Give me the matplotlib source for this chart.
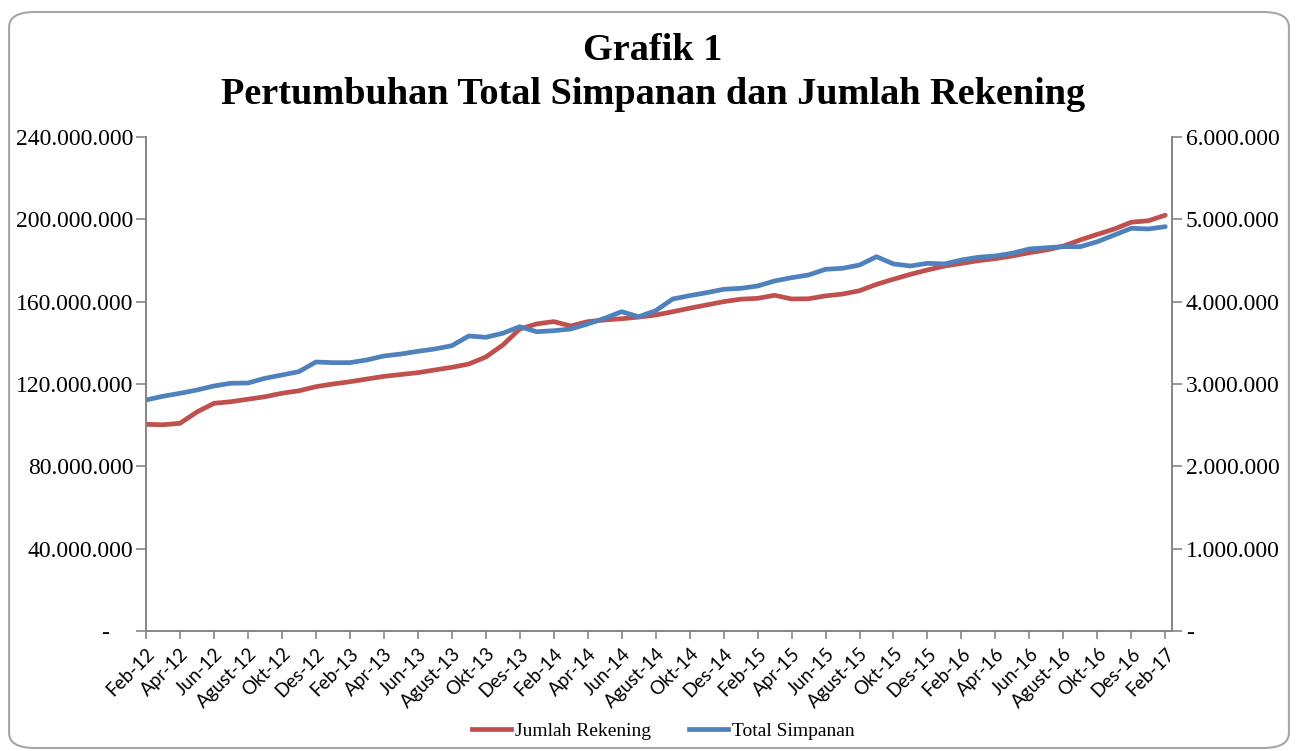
import numpy as np
import matplotlib
matplotlib.use('Agg')
import matplotlib.pyplot as plt
from matplotlib.patches import FancyBboxPatch
from matplotlib.ticker import FuncFormatter

# monthly data Feb-12 .. Feb-17
bulan = ['Jan', 'Feb', 'Mar', 'Apr', 'Mei', 'Jun', 'Jul', 'Agust', 'Sep', 'Okt', 'Nov', 'Des']
labels = [bulan[(m - 1) % 12] + '-' + str(12 + (m - 1) // 12) for m in range(2, 63)]

# Jumlah Rekening (left axis), juta rekening
jumlah_rekening = np.array([
    100.4, 100.2, 100.9, 106.4, 110.6, 111.4, 112.6, 113.8, 115.5, 116.7,
    118.7, 120.0, 121.1, 122.4, 123.7, 124.6, 125.5, 126.8, 128.1, 129.7,
    133.1, 138.9, 146.7, 149.2, 150.3, 148.2, 150.3, 151.1, 151.7, 152.5,
    153.5, 155.1, 156.8, 158.4, 160.0, 161.2, 161.6, 163.1, 161.3, 161.4,
    162.8, 163.7, 165.3, 168.4, 170.9, 173.3, 175.4, 177.3, 178.6, 179.9,
    180.9, 182.2, 183.8, 185.1, 187.0, 190.0, 192.7, 195.3, 198.6, 199.3,
    202.0]) * 1e6

# Total Simpanan (right axis), ribu
total_simpanan = np.array([
    2806, 2851, 2887, 2927, 2976, 3009, 3012, 3069, 3109, 3150,
    3267, 3259, 3259, 3292, 3340, 3364, 3397, 3425, 3465, 3583,
    3567, 3616, 3696, 3635, 3647, 3668, 3729, 3798, 3878, 3817,
    3890, 4032, 4073, 4109, 4150, 4162, 4190, 4251, 4291, 4324,
    4393, 4405, 4445, 4546, 4458, 4433, 4466, 4458, 4506, 4539,
    4555, 4588, 4640, 4655, 4668, 4668, 4728, 4810, 4891, 4883,
    4911]) * 1e3

red = '#C0504D'
blue = '#4F81BD'
axcol = '#868686'

def titik(v, pos):
    if v == 0:
        return '-    '
    return '{:,.0f}'.format(v).replace(',', '.')

def titik_r(v, pos):
    if v == 0:
        return '-'
    return '{:,.0f}'.format(v).replace(',', '.')

serif = 'Liberation Serif'

fig = plt.figure(figsize=(12.98, 7.51), dpi=100)
fig.patches.append(FancyBboxPatch((0.007, 0.004), 0.986, 0.98,
                                  boxstyle='round,pad=0,rounding_size=0.02',
                                  transform=fig.transFigure, fill=False,
                                  edgecolor='#A6A6A6', lw=1.5))

ax = fig.add_axes([0.1125, 0.1598, 0.7905, 0.6578])
ax2 = ax.twinx()

x = np.arange(len(labels))
ax.plot(x, jumlah_rekening, color=red, lw=3.4, solid_joinstyle='round', solid_capstyle='round')
ax2.plot(x, total_simpanan, color=blue, lw=3.4, solid_joinstyle='round', solid_capstyle='round')

ax.set_xlim(0, 60.4)
ax.set_ylim(0, 240e6)
ax2.set_ylim(0, 6e6)
ax.set_yticks(np.arange(0, 240e6 + 1, 40e6))
ax2.set_yticks(np.arange(0, 6e6 + 1, 1e6))
ax.yaxis.set_major_formatter(FuncFormatter(titik))
ax2.yaxis.set_major_formatter(FuncFormatter(titik_r))

ax.set_xticks(x[::2])
ax.set_xticklabels(labels[::2], rotation=45, ha='right', rotation_mode='anchor',
                   fontsize=13.5, family='Lato')

for a in (ax, ax2):
    a.spines['top'].set_visible(False)
    for s in ('left', 'right', 'bottom'):
        a.spines[s].set_color(axcol)
        a.spines[s].set_linewidth(1.2)
    a.tick_params(axis='both', colors=axcol, length=7, width=1.2, labelcolor='black')
    for t in a.get_yticklabels():
        t.set_family(serif)
        t.set_fontsize(17)
ax.tick_params(axis='y', pad=2)
ax2.tick_params(axis='y', pad=3)
ax.tick_params(axis='x', length=6, pad=4)

fig.text(0.503, 0.933, 'Grafik 1', ha='center', va='center', fontsize=27.5,
         fontweight='bold', family=serif)
fig.text(0.503, 0.874, 'Pertumbuhan Total Simpanan dan Jumlah Rekening', ha='center',
         va='center', fontsize=27.5, fontweight='bold', family=serif)

h1, = ax.plot([], [], color=red, lw=3.4)
h2, = ax.plot([], [], color=blue, lw=3.4)
fig.legend([h1, h2], ['Jumlah Rekening', 'Total Simpanan'], loc='center',
           bbox_to_anchor=(0.511, 0.027), ncol=2, frameon=False,
           prop={'family': serif, 'size': 14}, handlelength=2.0, handletextpad=0.2,
           columnspacing=2.0)

plt.savefig('out.png', dpi=100)
